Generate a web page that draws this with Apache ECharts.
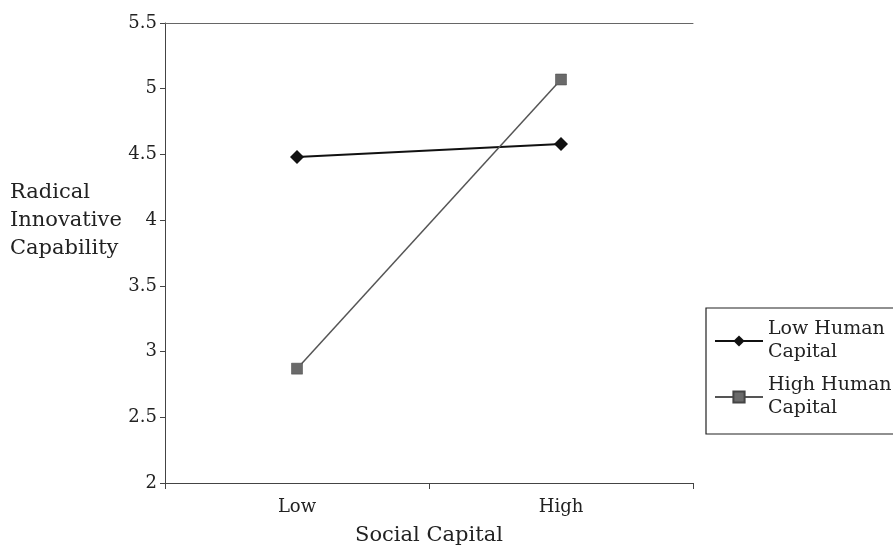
<!DOCTYPE html>
<html><head><meta charset="utf-8">
<script src="https://cdn.jsdelivr.net/npm/echarts@6/dist/echarts.min.js"></script>
<style>html,body{margin:0;padding:0;background:#fff}#c{width:893px;height:548px}</style>
</head><body><div id="c"></div>
<script>
const categories = ['Low', 'High'];
const lowHumanCapital = [4.48, 4.58];
const highHumanCapital = [2.87, 5.07];
const yTicks = [2, 2.5, 3, 3.5, 4, 4.5, 5, 5.5];
const seriesNames = ['Low Human\nCapital', 'High Human\nCapital'];
const font = 'DejaVu Serif';

const chart = echarts.init(document.getElementById('c'), null, {renderer: 'canvas'});
chart.setOption({
  animation: false,
  backgroundColor: '#fff',
  grid: {left: 165, top: 23, width: 528, height: 460, containLabel: false, outerBoundsMode: 'none'},
  xAxis: [{
    type: 'category', data: categories, boundaryGap: true,
    axisLine: {lineStyle: {color: '#444', width: 1}},
    axisTick: {show: true, length: 6, lineStyle: {color: '#444'}},
    axisLabel: {color: '#222', fontFamily: font, fontSize: 18, margin: 15},
    name: 'Social Capital', nameLocation: 'middle', nameGap: 42,
    nameTextStyle: {color: '#222', fontFamily: font, fontSize: 21}
  }, {
    type: 'category', data: categories, position: 'top',
    axisLine: {show: true, lineStyle: {color: '#666', width: 1}},
    axisTick: {show: false}, axisLabel: {show: false}
  }],
  yAxis: {
    type: 'value', min: 2, max: 5.5, interval: 0.5,
    axisLine: {show: true, lineStyle: {color: '#444', width: 1}},
    axisTick: {show: true, length: 5, inside: false, lineStyle: {color: '#444'}},
    splitLine: {show: false},
    axisLabel: {color: '#222', fontFamily: font, fontSize: 18, margin: 8,
      formatter: v => yTicks.includes(v) ? String(v) : ''}
  },
  graphic: [{
    type: 'text', left: 10, top: 179,
    style: {text: 'Radical\nInnovative\nCapability', fontFamily: font, fontSize: 21, lineHeight: 28, fill: '#222'}
  }],
  legend: {
    left: 706, top: 308, orient: 'vertical',
    data: seriesNames,
    itemWidth: 48, itemHeight: 14, itemGap: 10,
    padding: [10, 40, 14, 8],
    borderColor: '#222', borderWidth: 1.2,
    textStyle: {fontFamily: font, fontSize: 19, lineHeight: 23, color: '#222'}
  },
  series: [{
    name: seriesNames[0], type: 'line', data: lowHumanCapital,
    symbol: 'diamond', symbolSize: 14,
    lineStyle: {color: '#111', width: 2},
    itemStyle: {color: '#111'}
  }, {
    name: seriesNames[1], type: 'line', data: highHumanCapital,
    symbol: 'rect', symbolSize: 11,
    lineStyle: {color: '#555', width: 1.5},
    itemStyle: {color: '#6a6a6a', borderColor: '#444', borderWidth: 0.5}
  }]
});
</script></body></html>
